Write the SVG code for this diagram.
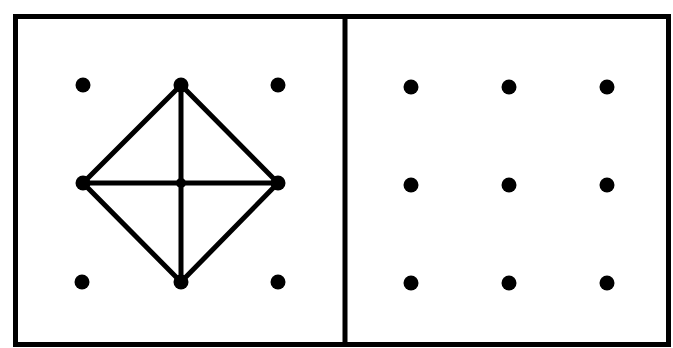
<svg xmlns="http://www.w3.org/2000/svg" width="673" height="348" viewBox="0 0 673 348">
<style>
.frame{fill:none;stroke:#000;stroke-width:5}
.ln{stroke:#000;stroke-width:5;stroke-linecap:round;fill:none}
.dot{fill:#000}
</style>
<rect x="0" y="0" width="673" height="348" fill="#fff"/>
<g id="frame">
<rect class="frame" x="15.5" y="16.5" width="653" height="328"/>
<line class="frame" x1="345" y1="16.5" x2="345" y2="344.5"/>
</g>
<g id="connectors">
<path class="ln" d="M181 85 L278 183 L181 282 L83 183 Z"/>
<line class="ln" x1="181" y1="85" x2="181" y2="282"/>
<line class="ln" x1="83" y1="183" x2="278" y2="183"/>
</g>
<g id="left-dots">
<circle class="dot" cx="83" cy="85" r="7.5"/>
<circle class="dot" cx="181" cy="85" r="7.5"/>
<circle class="dot" cx="278" cy="85" r="7.5"/>
<circle class="dot" cx="83" cy="183" r="7.5"/>
<circle class="dot" cx="181" cy="183" r="5"/>
<circle class="dot" cx="278" cy="183" r="7.5"/>
<circle class="dot" cx="82" cy="282" r="7.5"/>
<circle class="dot" cx="181" cy="282" r="7.5"/>
<circle class="dot" cx="278" cy="282" r="7.5"/>
</g>
<g id="right-dots">
<circle class="dot" cx="411" cy="87" r="7.5"/>
<circle class="dot" cx="509" cy="87" r="7.5"/>
<circle class="dot" cx="607" cy="87" r="7.5"/>
<circle class="dot" cx="411" cy="185" r="7.5"/>
<circle class="dot" cx="509" cy="185" r="7.5"/>
<circle class="dot" cx="607" cy="185" r="7.5"/>
<circle class="dot" cx="411" cy="283" r="7.5"/>
<circle class="dot" cx="509" cy="283" r="7.5"/>
<circle class="dot" cx="607" cy="283" r="7.5"/>
</g>
</svg>
